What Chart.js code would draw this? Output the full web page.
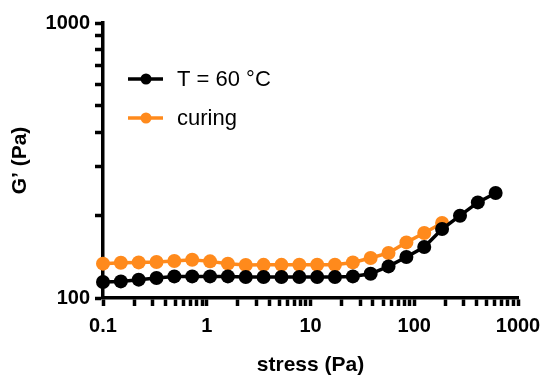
<!DOCTYPE html>
<html>
<head>
<meta charset="utf-8">
<script src="https://cdn.jsdelivr.net/npm/chart.js@4"></script>
<style>
  html, body { margin: 0; padding: 0; background: #fff; }
  #wrap { width: 550px; height: 381px; }
</style>
</head>
<body>
<div id="wrap"><canvas id="c" width="550" height="381"></canvas></div>
<script>
// ---- data ----
const stressT60 = [0.1, 0.1486, 0.2208, 0.328, 0.487, 0.724, 1.076, 1.599, 2.376, 3.53, 5.25, 7.8, 11.6, 17.2, 25.6, 38.0, 56.5, 84, 124.8, 185.5, 276, 410, 609];
const gT60 = [114.3, 114.9, 116.6, 118.2, 119.8, 119.8, 119.8, 119.8, 119.2, 119.2, 119.2, 119.2, 119.2, 119.2, 119.8, 122.5, 130.3, 141.0, 153.3, 178.2, 199.2, 222.7, 240.9];
const stressCuring = [0.1, 0.1486, 0.2208, 0.328, 0.487, 0.724, 1.076, 1.599, 2.376, 3.53, 5.25, 7.8, 11.6, 17.2, 25.6, 38.0, 56.5, 84, 124.8, 185.5];
const gCuring = [133.3, 134.4, 134.7, 135.2, 136.3, 137.8, 135.9, 133.3, 131.8, 132, 132, 132.1, 132.1, 132.1, 134.7, 139.8, 145.8, 159.3, 172.3, 187.4];
const seriesLabels = ["T = 60 °C", "curing"];
const xTickValues = [0.1,0.2,0.3,0.4,0.5,0.6,0.7,0.8,0.9,1,2,3,4,5,6,7,8,9,10,20,30,40,50,60,70,80,90,100,200,300,400,500,600,700,800,900,1000];
const xTickLabels = ["0.1", "1", "10", "100", "1000"];
const yTickValues = [100,200,300,400,500,600,700,800,900,1000];
const yTickLabels = ["100", "1000"];
const xTitle = "stress (Pa)";
const yTitle = "G\u2019 (Pa)";

const BLACK = "#000000";
const ORANGE = "#FF8A1C";
const FONT = "'Liberation Sans', Arial, Helvetica, sans-serif";

function pts(xs, ys) { return xs.map((x, i) => ({ x: x, y: ys[i] })); }

const legendPlugin = {
  id: "customLegend",
  afterDraw(chart) {
    const ctx = chart.ctx;
    const items = chart.data.datasets;
    const x0 = 128, x1 = 163, xm = 146, tx = 177;
    const ys = [79, 118];
    ctx.save();
    items.forEach((ds, i) => {
      const y = ys[i];
      ctx.strokeStyle = ds.borderColor;
      ctx.lineWidth = 3.5;
      ctx.beginPath(); ctx.moveTo(x0, y); ctx.lineTo(x1, y); ctx.stroke();
      ctx.fillStyle = ds.borderColor;
      ctx.beginPath(); ctx.arc(xm, y, 5.5, 0, Math.PI * 2); ctx.fill();
      ctx.fillStyle = "#000";
      ctx.font = "22px " + FONT;
      ctx.textBaseline = "middle";
      ctx.textAlign = "left";
      ctx.fillText(ds.label, tx, y + 1);
    });
    ctx.restore();
  }
};

new Chart(document.getElementById("c"), {
  type: "line",
  data: {
    datasets: [
      { label: seriesLabels[0], data: pts(stressT60, gT60), borderColor: BLACK, backgroundColor: BLACK,
        borderWidth: 3.5, pointRadius: 7, pointBorderWidth: 0, pointBackgroundColor: BLACK, clip: false, tension: 0 },
      { label: seriesLabels[1], data: pts(stressCuring, gCuring), borderColor: ORANGE, backgroundColor: ORANGE,
        borderWidth: 3.5, pointRadius: 7, pointBorderWidth: 0, pointBackgroundColor: ORANGE, clip: false, tension: 0 }
    ]
  },
  options: {
    responsive: false,
    animation: false,
    devicePixelRatio: 1,
    layout: { padding: { top: 23, right: 32, bottom: 0, left: 0 } },
    plugins: { legend: { display: false }, tooltip: { enabled: false } },
    scales: {
      x: {
        type: "logarithmic",
        min: 0.1, max: 1000,
        afterBuildTicks(scale) { scale.ticks = xTickValues.map(v => ({ value: v })); },
        afterFit(scale) { scale.height = 83; },
        border: { display: true, color: "#000", width: 3.5 },
        grid: { drawOnChartArea: false, drawTicks: true, tickLength: 8, tickColor: "#000", tickWidth: 3.5 },
        ticks: {
          autoSkip: false, maxRotation: 0, padding: 8, color: "#000",
          font: { family: FONT, size: 20, weight: "bold" },
          callback(v) { const s = String(+v); return xTickLabels.includes(s) ? s : ""; }
        },
        title: { display: true, text: xTitle, color: "#000", font: { family: FONT, size: 21, weight: "bold" }, padding: { top: 6, bottom: 3 } }
      },
      y: {
        type: "logarithmic",
        min: 100, max: 1000,
        afterBuildTicks(scale) { scale.ticks = yTickValues.map(v => ({ value: v })); },
        afterFit(scale) { scale.width = 103; },
        border: { display: true, color: "#000", width: 3.5 },
        grid: { drawOnChartArea: false, drawTicks: true, tickLength: 8, tickColor: "#000", tickWidth: 3.5 },
        ticks: {
          autoSkip: false, padding: 5, color: "#000",
          font: { family: FONT, size: 20, weight: "bold" },
          callback(v) { const s = String(+v); return yTickLabels.includes(s) ? s : ""; }
        },
        title: { display: true, text: yTitle, color: "#000", font: { family: FONT, size: 21, weight: "bold" }, padding: { top: 8, bottom: 0 } }
      }
    }
  },
  plugins: [legendPlugin]
});
</script>
</body>
</html>
